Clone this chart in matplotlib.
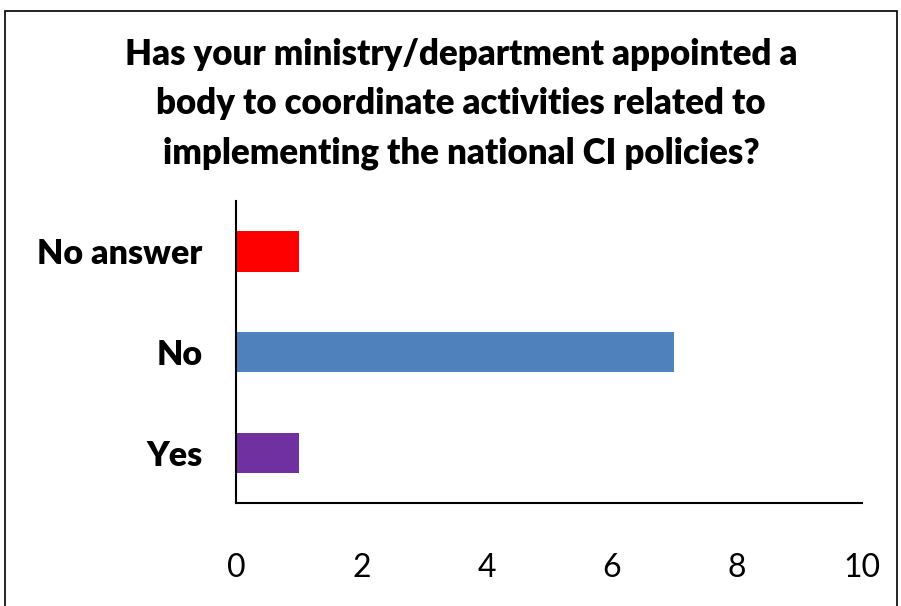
import matplotlib.pyplot as plt
from matplotlib.patches import Rectangle

# Survey answers, bottom to top
categories = ['Yes', 'No', 'No answer']
counts = [1, 7, 1]
bar_colors = ['#7030A0', '#4F81BD', '#FF0000']
x_ticks = [0, 2, 4, 6, 8, 10]

title = ('Has your ministry/department appointed a\n'
         'body to coordinate activities related to\n'
         'implementing the national CI policies?')


def main():
    fig = plt.figure(figsize=(9.01, 6.06), dpi=100)
    ax = fig.add_axes([0.262, 0.17, 0.695, 0.498])

    ax.barh(categories, counts, height=0.4, color=bar_colors)

    ax.set_xlim(0, 10)
    ax.set_ylim(-0.5, 2.5)
    ax.set_xticks(x_ticks)
    ax.set_xticklabels([str(t) for t in x_ticks], fontsize=23, family='Lato')
    ax.tick_params(axis='x', length=0, pad=36)
    ax.tick_params(axis='y', length=0, pad=24)
    for lbl in ax.get_yticklabels():
        lbl.set_fontsize(24.5)
        lbl.set_fontweight('heavy')
        lbl.set_family('Lato')

    for side in ('top', 'right'):
        ax.spines[side].set_visible(False)
    for side in ('left', 'bottom'):
        ax.spines[side].set_linewidth(1.5)

    # Title spread over three lines above the plot
    fig.text(0.512, 0.828, title, ha='center', va='center', fontsize=25,
             fontweight='heavy', family='Lato', linespacing=1.6)

    # Chart frame
    fig.patches.append(Rectangle((5 / 901, -0.02), 892 / 901, 1.02 - 11 / 606,
                                 transform=fig.transFigure, fill=False,
                                 edgecolor='black', linewidth=1.2))

    fig.savefig('out.png', dpi=100)


if __name__ == "__main__":
    main()
